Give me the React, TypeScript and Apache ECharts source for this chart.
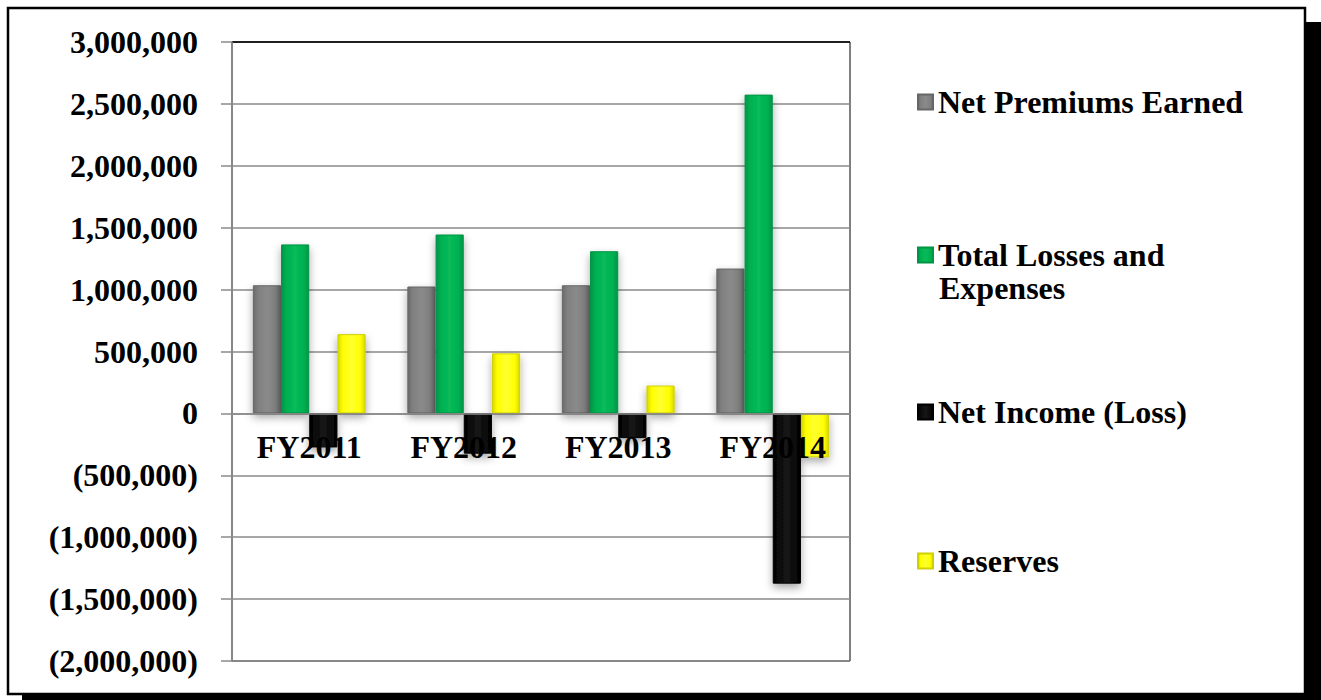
import React, { useEffect, useRef } from "react";
import * as echarts from "echarts";

// Fiscal years on the category axis
const categories = ["FY2011", "FY2012", "FY2013", "FY2014"];

// Series values (dollars)
const netPremiumsEarned = [1035000, 1025000, 1035000, 1170000];
const totalLossesAndExpenses = [1365000, 1445000, 1310000, 2575000];
const netIncomeLoss = [-275000, -325000, -200000, -1375000];
const reserves = [640000, 485000, 225000, -355000];

const seriesNames = [
  "Net Premiums Earned",
  "Total Losses and Expenses",
  "Net Income (Loss)",
  "Reserves",
];

// Y axis range
const yMin = -2000000;
const yMax = 3000000;
const yStep = 500000;

const FONT = "'Liberation Serif', 'Times New Roman', serif";
const FONT_SIZE = 32;

const fmtNumber = (v: number) =>
  Math.abs(v).toString().replace(/\B(?=(\d{3})+(?!\d))/g, ",");
const fmtAxis = (v: number) => (v < 0 ? `(${fmtNumber(v)})` : fmtNumber(v));

// Bevelled look: darker at the edges, full colour in the middle
const bevel = (edge: string, mid: string, light: string) =>
  new echarts.graphic.LinearGradient(0, 0, 1, 0, [
    { offset: 0, color: edge },
    { offset: 0.18, color: mid },
    { offset: 0.5, color: light },
    { offset: 0.82, color: mid },
    { offset: 1, color: edge },
  ]);

const palette = [
  { fill: bevel("#6a6a6a", "#808080", "#8a8a8a"), border: "#666666" },
  { fill: bevel("#00954a", "#00b050", "#08bb5a"), border: "#009445" },
  { fill: bevel("#000000", "#0a0a0a", "#161616"), border: "#000000" },
  { fill: bevel("#d8d800", "#ffff00", "#ffff30"), border: "#d0d000" },
];

const seriesData = [netPremiumsEarned, totalLossesAndExpenses, netIncomeLoss, reserves];

// Legend text centre positions (px from top)
const legendTops = [102, 255, 412, 561];

// Grid geometry
const GRID_TOP = 42;
const GRID_HEIGHT = 619;

// Gridline colours from min to max: grey, with the top edge in black
const gridLineCount = Math.round((yMax - yMin) / yStep) + 1;
const gridLineColors = Array.from({ length: gridLineCount }, (_, i) =>
  i === gridLineCount - 1 ? "#000000" : "#8a8a8a"
);

export default function App() {
  const ref = useRef<HTMLDivElement>(null);

  useEffect(() => {
    if (!ref.current) return;
    const chart = echarts.init(ref.current, null, { renderer: "svg" });

    const legendLineHeight = 36;
    // distance from the bottom edge of the grid up to the zero line
    const zeroOffset = -(GRID_HEIGHT * (0 - yMin)) / (yMax - yMin);

    chart.setOption({
      animation: false,
      backgroundColor: "transparent",
      textStyle: { fontFamily: FONT },
      graphic: [
        {
          type: "rect",
          z: -20,
          silent: true,
          shape: { x: 22, y: 22, width: 1320, height: 700 },
          style: { fill: "#000000" },
        },
        {
          type: "rect",
          z: -19,
          silent: true,
          shape: { x: 8, y: 8, width: 1297, height: 686 },
          style: { fill: "#ffffff", stroke: "#000000", lineWidth: 2.5 },
        },
        {
          type: "text",
          z: 10,
          left: 939,
          top: 288 - legendLineHeight / 2,
          style: {
            text: "Expenses",
            font: `bold ${FONT_SIZE}px ${FONT}`,
            fill: "#000000",
            lineHeight: legendLineHeight,
          },
        },
      ],
      grid: {
        left: 232,
        top: GRID_TOP,
        width: 618,
        height: GRID_HEIGHT,
        show: true,
        borderColor: "#000000",
        borderWidth: 1,
        backgroundColor: "#ffffff",
        containLabel: false,
      },
      legend: seriesNames.map((name, i) => ({
        data: [name],
        orient: "vertical",
        left: 917,
        top: legendTops[i] - legendLineHeight / 2,
        padding: 0,
        itemWidth: 15,
        itemHeight: 15,
        itemGap: 0,
        icon: "rect",
        selectedMode: false,
        formatter: (n: string) => (n === "Total Losses and Expenses" ? "Total Losses and" : n),
        textStyle: {
          fontFamily: FONT,
          fontSize: FONT_SIZE,
          fontWeight: "bold",
          color: "#000000",
          lineHeight: legendLineHeight,
        },
      })),
      xAxis: {
        type: "category",
        data: categories,
        z: 10,
        position: "bottom",
        offset: zeroOffset,
        axisLine: { show: true, onZero: false, lineStyle: { color: "#8a8a8a", width: 1.5 } },
        axisTick: { show: false },
        axisLabel: {
          fontFamily: FONT,
          fontSize: FONT_SIZE,
          fontWeight: "bold",
          color: "#000000",
          margin: 18,
        },
      },
      yAxis: {
        type: "value",
        min: yMin,
        max: yMax,
        interval: yStep,
        axisLine: { show: true, lineStyle: { color: "#8a8a8a", width: 1.5 } },
        axisTick: { show: true, length: 11, lineStyle: { color: "#8a8a8a", width: 1.5 } },
        splitLine: { show: true, lineStyle: { color: gridLineColors, width: 1.5 } },
        axisLabel: {
          fontFamily: FONT,
          fontSize: FONT_SIZE,
          fontWeight: "bold",
          color: "#000000",
          margin: 34,
          formatter: fmtAxis,
        },
      },
      series: seriesNames.map((name, i) => ({
        name,
        type: "bar",
        data: seriesData[i],
        barGap: "0%",
        barCategoryGap: "27%",
        itemStyle: {
          color: palette[i].fill,
          borderColor: palette[i].border,
          borderWidth: 1,
          shadowColor: "rgba(0,0,0,0.35)",
          shadowBlur: 8,
          shadowOffsetY: 4,
        },
      })),
    });

    return () => chart.dispose();
  }, []);

  return (
    <div
      ref={ref}
      style={{ position: "absolute", left: 0, top: 0, width: 1321, height: 700 }}
    />
  );
}
